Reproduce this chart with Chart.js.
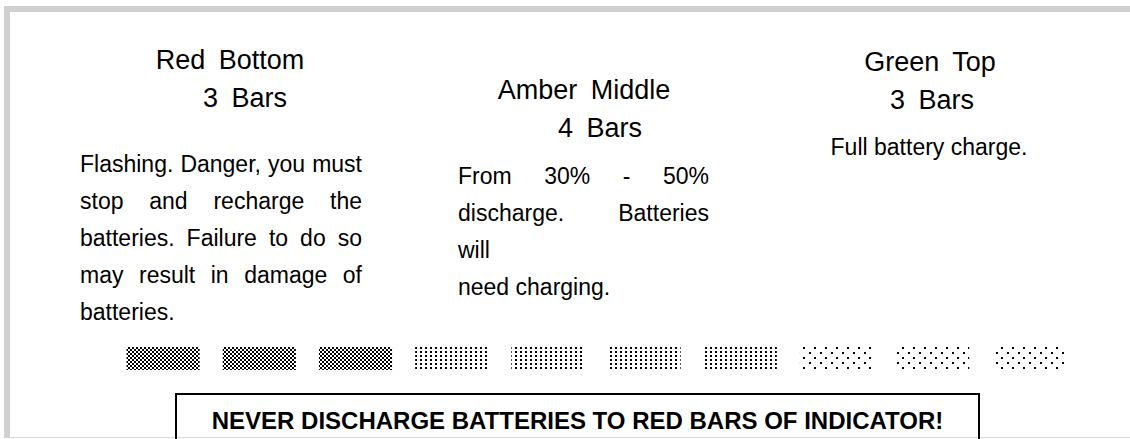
<!DOCTYPE html>
<html>
<head>
<meta charset="utf-8">
<script src="https://cdn.jsdelivr.net/npm/chart.js@4"></script>
<style>
  html, body { margin: 0; padding: 0; background: #fff; }
  body { width: 1130px; height: 439px; position: relative; overflow: hidden;
         font-family: "Liberation Sans", Arial, sans-serif; color: #000; }
  .frame-top { position: absolute; left: 4px; top: 6px; width: 1126px; height: 6px; background: #d0d0d0; }
  .frame-left { position: absolute; left: 4px; top: 6px; width: 6px; height: 432px; background: #d0d0d0; }
  .frame-bottom { position: absolute; left: 4px; top: 437px; width: 1126px; height: 1px; background: #d6d6d6; }
  .title { position: absolute; width: 300px; text-align: center; font-size: 27px; line-height: 38px;
           word-spacing: 6px; white-space: nowrap; }
  .body { position: absolute; font-size: 23px; line-height: 37px; white-space: nowrap; }
  .body .j { text-align: justify; text-align-last: justify; }
  #bars-wrap { position: absolute; left: 0; top: 347px; width: 1130px; height: 23px; }
  .notice { position: absolute; left: 175px; top: 393px; width: 805px; height: 60px;
            border: 2px solid #000; box-sizing: border-box; text-align: center;
            font-weight: bold; font-size: 24px; padding-top: 12px; }
</style>
</head>
<body>
<div class="frame-top"></div>
<div class="frame-left"></div>
<div class="frame-bottom"></div>

<!-- each title line is centred on its own axis, as in the original -->
<div class="title" style="left:80px; top:41px;">Red Bottom</div>
<div class="title" style="left:95px; top:79px;">3 Bars</div>
<div class="body" style="left:80px; top:146px; width:282px;">
  <div class="j">Flashing. Danger, you must</div>
  <div class="j">stop and recharge the</div>
  <div class="j">batteries. Failure to do so</div>
  <div class="j">may result in damage of</div>
  <div>batteries.</div>
</div>

<div class="title" style="left:434px; top:71px;">Amber Middle</div>
<div class="title" style="left:450px; top:109px;">4 Bars</div>
<div class="body" style="left:458px; top:158px; width:251px;">
  <div class="j">From 30% - 50%</div>
  <div class="j">discharge. Batteries</div>
  <div>will</div>
  <div>need charging.</div>
</div>

<div class="title" style="left:780px; top:43px;">Green Top</div>
<div class="title" style="left:782px; top:81px;">3 Bars</div>
<div class="body" style="left:800px; top:129px; width:258px; text-align:center;">Full battery charge.</div>

<div id="bars-wrap"><canvas id="bars"></canvas></div>

<div class="notice">NEVER DISCHARGE BATTERIES TO RED BARS OF INDICATOR!</div>

<script>
// indicator bars, bottom to top
const barLabels = ['R1', 'R2', 'R3', 'A1', 'A2', 'A3', 'A4', 'G1', 'G2', 'G3'];
const barZones = ['red', 'red', 'red', 'amber', 'amber', 'amber', 'amber', 'green', 'green', 'green'];
const barValues = [1, 1, 1, 1, 1, 1, 1, 1, 1, 1];

// build a dithered fill for each zone
function makePattern(zone) {
  const c = document.createElement('canvas');
  const g = c.getContext('2d');
  if (zone === 'red') {
    c.width = 4; c.height = 4;
    g.fillStyle = '#fff'; g.fillRect(0, 0, 4, 4);
    g.fillStyle = '#000';
    g.fillRect(0, 0, 2, 2);
    g.fillRect(2, 2, 2, 2);
  } else if (zone === 'amber') {
    c.width = 5; c.height = 4;
    g.fillStyle = '#fff'; g.fillRect(0, 0, 5, 4);
    g.fillStyle = '#000';
    g.fillRect(0, 0, 2, 2);
  } else {
    c.width = 11; c.height = 10;
    g.fillStyle = '#fff'; g.fillRect(0, 0, 11, 10);
    g.fillStyle = '#000';
    g.fillRect(0, 0, 2, 2);
    g.fillRect(6, 5, 2, 2);
  }
  return g.createPattern(c, 'repeat');
}

const fills = barZones.map(z => makePattern(z));

new Chart(document.getElementById('bars'), {
  type: 'bar',
  data: {
    labels: barLabels,
    datasets: [{
      data: barValues,
      backgroundColor: fills,
      borderWidth: 0,
      categoryPercentage: 1,
      barPercentage: 0.76
    }]
  },
  options: {
    responsive: true,
    maintainAspectRatio: false,
    animation: false,
    layout: { padding: { left: 115, right: 53, top: 0, bottom: 0 } },
    plugins: { legend: { display: false }, tooltip: { enabled: false } },
    scales: {
      x: { display: false },
      y: { display: false, min: 0, max: 1 }
    }
  }
});
</script>
</body>
</html>
